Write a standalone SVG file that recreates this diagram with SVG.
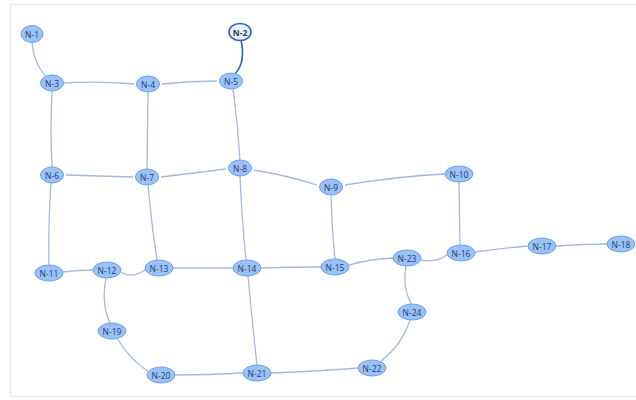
<svg xmlns="http://www.w3.org/2000/svg" width="636" height="400" viewBox="0 0 636 400">
<style>
.n ellipse{fill:#97c2fc;stroke:#6f9fe2;stroke-width:1}
.n text{font-family:"Open Sans","Liberation Sans",sans-serif;font-size:8.5px;fill:#2e3a55;text-anchor:middle;dominant-baseline:central}
.e path{fill:none;stroke:#a3b9dc;stroke-width:1.3}
</style>
<rect x="0" y="0" width="636" height="400" fill="#ffffff"/>
<rect x="10.5" y="4.5" width="640" height="392" fill="none" stroke="#ececec" stroke-width="1.5"/>
<g id="connectors" class="e">
<path d="M32,42 Q33,62 46,77"/>
<path d="M63,83 Q100,81 134,84"/>
<path d="M162,84 Q190,81 217,81"/>
<path d="M52,91 Q50,130 52,167"/>
<path d="M148,92 L147,169"/>
<path d="M233,89 Q238,125 240,160"/>
<path d="M66,175 Q100,176 133,177"/>
<path d="M161,177 Q195,173 226,169"/>
<path d="M254,170 Q285,175 317,185"/>
<path d="M345,185 Q400,176 445,174"/>
<path d="M51,183 Q48,228 49,265"/>
<path d="M148,185 Q152,228 157,260"/>
<path d="M240,176 Q242,222 246,260"/>
<path d="M331,194 Q332,230 335,259"/>
<path d="M459,182 L460,245"/>
<path d="M63,272 Q80,270 93,270"/>
<path d="M121,272 Q132,279 145,270"/>
<path d="M172,268 L233,268"/>
<path d="M261,268 Q290,267 321,267"/>
<path d="M349,265 Q370,259 393,258"/>
<path d="M421,260 Q436,263 447,255"/>
<path d="M475,252 Q505,248 527,246"/>
<path d="M556,246 Q585,244 608,244"/>
<path d="M106,278 Q101,304 110,323"/>
<path d="M117,338 Q130,360 149,372"/>
<path d="M175,375 Q210,375 243,373"/>
<path d="M248,276 Q252,320 257,365"/>
<path d="M271,373 Q320,371 358,368"/>
<path d="M381,361 Q402,345 410,320"/>
<path d="M411,304 Q402,285 406,266"/>
<path d="M241,40 Q246,62 235,74" style="stroke:#2f5fb8;stroke-width:1.6"/>
</g>
<g id="N-1" class="n"><ellipse cx="32" cy="34" rx="11" ry="8.5"/><text x="32" y="34">N-1</text></g>
<g id="N-2" class="n"><ellipse cx="240" cy="32" rx="11" ry="8.5" style="fill:#eaf2ff;stroke:#2f5fb8;stroke-width:1.6"/><text x="240" y="32" style="font-weight:bold">N-2</text></g>
<g id="N-3" class="n"><ellipse cx="52" cy="83" rx="11.5" ry="8"/><text x="52" y="83">N-3</text></g>
<g id="N-4" class="n"><ellipse cx="148" cy="84" rx="11.5" ry="8"/><text x="148" y="84">N-4</text></g>
<g id="N-5" class="n"><ellipse cx="231" cy="81" rx="11.5" ry="8"/><text x="231" y="81">N-5</text></g>
<g id="N-6" class="n"><ellipse cx="52" cy="175" rx="11.5" ry="8"/><text x="52" y="175">N-6</text></g>
<g id="N-7" class="n"><ellipse cx="147" cy="177" rx="11.5" ry="8"/><text x="147" y="177">N-7</text></g>
<g id="N-8" class="n"><ellipse cx="240" cy="168" rx="11.5" ry="8"/><text x="240" y="168">N-8</text></g>
<g id="N-9" class="n"><ellipse cx="331" cy="187" rx="11.5" ry="8"/><text x="331" y="187">N-9</text></g>
<g id="N-10" class="n"><ellipse cx="459" cy="174" rx="14" ry="8"/><text x="459" y="174">N-10</text></g>
<g id="N-11" class="n"><ellipse cx="49" cy="273" rx="14" ry="8"/><text x="49" y="273">N-11</text></g>
<g id="N-12" class="n"><ellipse cx="107" cy="270" rx="14" ry="8"/><text x="107" y="270">N-12</text></g>
<g id="N-13" class="n"><ellipse cx="159" cy="268" rx="14" ry="8"/><text x="159" y="268">N-13</text></g>
<g id="N-14" class="n"><ellipse cx="247" cy="268" rx="14" ry="8"/><text x="247" y="268">N-14</text></g>
<g id="N-15" class="n"><ellipse cx="335" cy="267" rx="14" ry="8"/><text x="335" y="267">N-15</text></g>
<g id="N-16" class="n"><ellipse cx="461" cy="253" rx="14" ry="8"/><text x="461" y="253">N-16</text></g>
<g id="N-17" class="n"><ellipse cx="542" cy="246" rx="14" ry="8"/><text x="542" y="246">N-17</text></g>
<g id="N-18" class="n"><ellipse cx="621" cy="244" rx="14" ry="8"/><text x="621" y="244">N-18</text></g>
<g id="N-19" class="n"><ellipse cx="112" cy="331" rx="14" ry="8"/><text x="112" y="331">N-19</text></g>
<g id="N-20" class="n"><ellipse cx="161" cy="375" rx="14" ry="8"/><text x="161" y="375">N-20</text></g>
<g id="N-21" class="n"><ellipse cx="257" cy="373" rx="14" ry="8"/><text x="257" y="373">N-21</text></g>
<g id="N-22" class="n"><ellipse cx="372" cy="368" rx="14" ry="8"/><text x="372" y="368">N-22</text></g>
<g id="N-23" class="n"><ellipse cx="407" cy="258" rx="14" ry="8"/><text x="407" y="258">N-23</text></g>
<g id="N-24" class="n"><ellipse cx="412" cy="312" rx="14" ry="8"/><text x="412" y="312">N-24</text></g>
</svg>
